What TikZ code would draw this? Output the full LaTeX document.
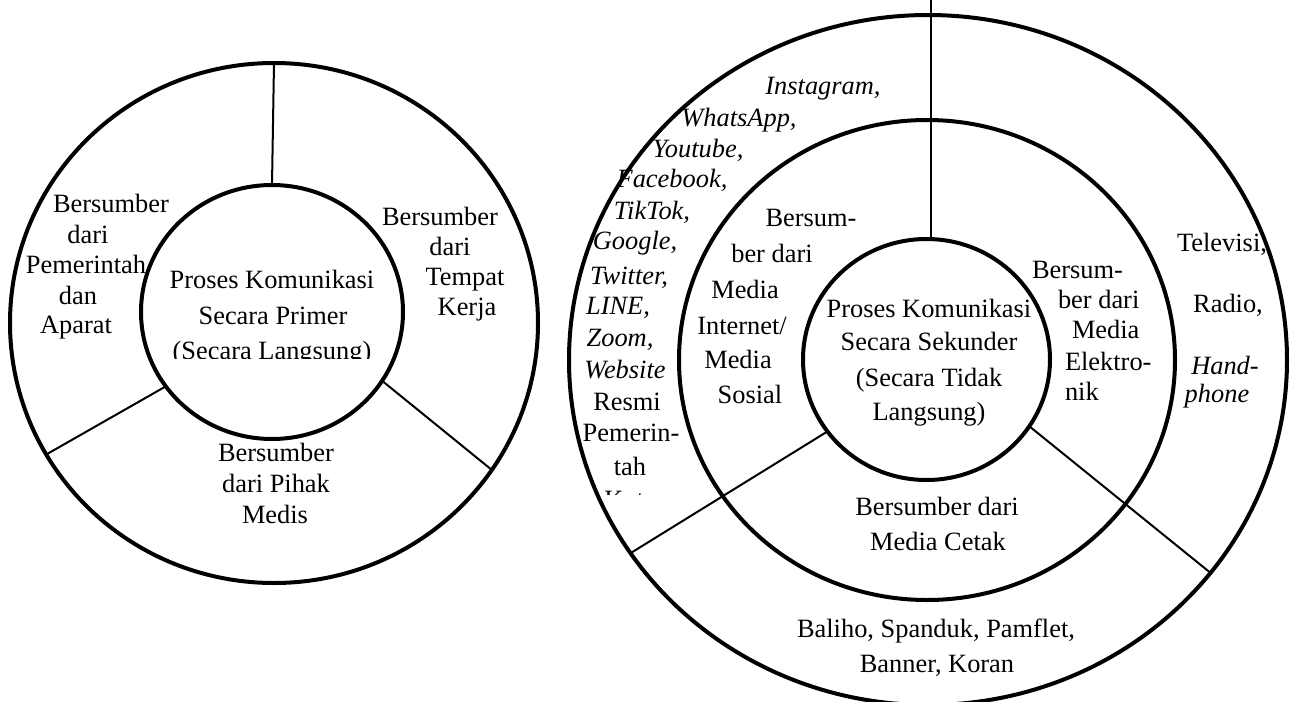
\documentclass[tikz,border=0pt]{standalone}
\usepackage{fontspec}
\setmainfont{Liberation Serif}
\usetikzlibrary{shapes.geometric}
\tikzset{
  ring/.style={draw,ellipse,line width=2pt,inner sep=0pt,outer sep=0pt},
  divider/.style={line width=1pt},
  lbl/.style={inner sep=0pt,outer sep=0pt,font=\fontsize{13.2pt}{16.5pt}\selectfont,anchor=base},
  ilbl/.style={lbl,font=\fontsize{13.2pt}{16.5pt}\selectfont\itshape},
}
\newcommand\tl[4]{\node[lbl] (#1) at (#2,#3) {#4};}
\newcommand\til[4]{\node[ilbl] (#1) at (#2,#3) {#4};}
\newcommand\tw[4]{\node[lbl,anchor=base west] (#1) at (#2,#3) {#4};}
\begin{document}
\begin{tikzpicture}[x=0.5pt,y=-0.5pt]
\useasboundingbox (0,0) rectangle (1292,702);
% ---------- left diagram ----------
\node[ring,minimum width=264pt,minimum height=260pt] (Lout) at (274,323) {};
\node[ring,minimum width=131pt,minimum height=127pt] (Lin) at (272,312) {};
\draw[divider] (Lout.north) -- (Lin.north);
\draw[divider] (Lin.215.8) -- (Lout.210.9);
\draw[divider] (Lin.-32.5) -- (Lout.-34.5);
\tl{a1}{111}{212}{Bersumber}
\tl{a2}{88}{243}{dari}
\tl{a3}{86}{273}{Pemerintah}
\tl{a4}{78}{304}{dan}
\tl{a5}{76}{333}{Aparat}
\tl{b1}{440}{225}{Bersumber}
\tl{b2}{450}{255}{dari}
\tl{b3}{465}{285}{Tempat}
\tl{b4}{467}{315}{Kerja}
\tl{c1}{272}{288}{Proses Komunikasi}
\tl{c2}{273}{324}{Secara Primer}
\begin{scope}
\clip (150,330) rectangle (400,358);
\tl{c3}{272}{359}{(Secara Langsung)}
\end{scope}
\tl{d1}{276}{461}{Bersumber}
\tl{d2}{276}{492}{dari Pihak}
\tl{d3}{275}{523}{Medis}
% ---------- right diagram ----------
\node[ring,minimum width=359pt,minimum height=345pt] (Rout) at (928,360) {};
\node[ring,minimum width=248pt,minimum height=240pt] (Rmid) at (927,360) {};
\node[ring,minimum width=123.5pt,minimum height=120.5pt] (Rin) at (926.5,359.5) {};
\coordinate (Rtop) at (931,0);
\draw[divider] (Rtop) -- (Rtop |- Rin.north);
\draw[divider] (Rin.216.3) -- (Rout.213.5);
\draw[divider] (Rin.-33.7) -- (Rout.-37.9);
% italic list
\til{i1}{823}{94}{Instagram,}
\til{i2}{739}{126}{WhatsApp,}
\til{i3}{698}{157}{Youtube,}
\til{i4}{672}{187}{Facebook,}
\til{i5}{652}{219}{TikTok,}
\til{i6}{635}{249}{Google,}
\til{i7}{629}{284}{Twitter,}
\til{i8}{618}{314}{LINE,}
\til{i9}{620}{346}{Zoom,}
\til{i10}{625}{378}{Website}
\tl{i11}{627}{410}{Resmi}
\tl{i12}{631}{441}{Pemerin-}
\tl{i13}{630}{475}{tah}
\begin{scope}
\clip (585,480) rectangle (680,494);
\tl{i14}{630}{508}{Kota}
\end{scope}
% internet block
\tl{m1}{811}{226}{Bersum-}
\tl{m2}{772}{262}{ber dari}
\tl{m3}{745}{298}{Media}
\tl{m4}{742}{334}{Internet/}
\tl{m5}{738}{368}{Media}
\tl{m6}{750}{403}{Sosial}
% centre
\tl{s1}{929}{317}{Proses Komunikasi}
\tl{s2}{929}{350}{Secara Sekunder}
\tl{s3}{929}{386}{(Secara Tidak}
\tl{s4}{929}{420}{Langsung)}
% electronic block
\tw{e1}{1032}{278}{Bersum-}
\tw{e2}{1058}{308}{ber dari}
\tw{e3}{1072}{338}{Media}
\tw{e4}{1065}{370}{Elektro-}
\tw{e5}{1065}{400}{nik}
% outer right
\tl{t1}{1222}{251}{Televisi,}
\tl{t2}{1228}{312}{Radio,}
\til{t3}{1225}{374}{Hand-}
\til{t4}{1217}{402}{phone}
% print
\tl{p1}{937}{515}{Bersumber dari}
\tl{p2}{938}{550}{Media Cetak}
\tl{q1}{936}{637}{Baliho, Spanduk, Pamflet,}
\tl{q2}{937}{672}{Banner, Koran}
\end{tikzpicture}
\end{document}
